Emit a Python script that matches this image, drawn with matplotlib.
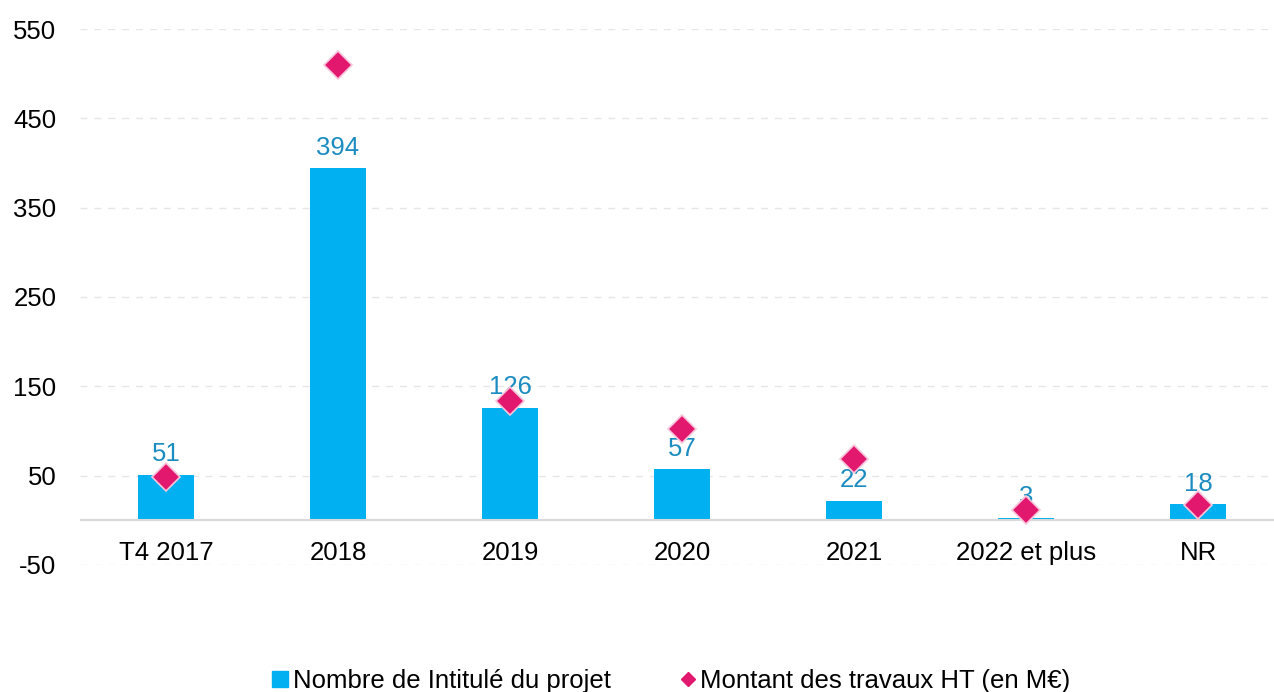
import matplotlib
matplotlib.use("Agg")
import matplotlib.pyplot as plt
from matplotlib.lines import Line2D

categories = ["T4 2017", "2018", "2019", "2020", "2021", "2022 et plus", "NR"]
nombre_projets = [51, 394, 126, 57, 22, 3, 18]
montant_travaux = [49, 510, 134, 102, 69, 12, 17]
yticks = [-50, 50, 150, 250, 350, 450, 550]

plt.rcParams['font.family'] = ['Liberation Sans', 'DejaVu Sans']
plt.rcParams['axes.unicode_minus'] = False

fig = plt.figure(figsize=(12.74, 6.92), dpi=100)
ax = fig.add_axes([80/1274, 127/692, 1194/1274, 536/692])

bar_color = "#00B0F0"
label_color = "#1B8CC0"
diamond_color = "#E2186F"
fs = 18.5

x = list(range(len(categories)))
ax.bar(x, nombre_projets, width=0.32, color=bar_color, zorder=2)
for xi, v in zip(x, nombre_projets):
    ax.annotate(str(v), (xi, v), xytext=(0, 6), textcoords="offset points",
                ha="center", va="bottom", fontsize=fs, color=label_color, zorder=4)
ax.plot(x, montant_travaux, linestyle="none", marker="D", markersize=14,
        color=diamond_color, markeredgecolor="#F7C6DA", markeredgewidth=1.2, zorder=5)

ax.set_xlim(-0.5, 6.5 - 10/172)
ax.set_ylim(-50, 550)
ax.set_yticks(yticks)
ax.set_xticks(x)
ax.set_xticklabels(categories)
ax.spines['bottom'].set_position(('data', 0))
ax.tick_params(axis="both", length=0, labelsize=fs, colors="black")
ax.tick_params(axis="y", pad=17)
ax.tick_params(axis="x", pad=15)
ax.yaxis.grid(True, linestyle=(0, (5, 5)), color="#E6E6E6", linewidth=1, zorder=0)
ax.axhline(0, color="#D9D9D9", linewidth=1.5, zorder=3)
for s in ax.spines.values():
    s.set_visible(False)

handles = [
    Line2D([0], [0], marker="s", linestyle="none", color=bar_color, markersize=11),
    Line2D([0], [0], marker="D", linestyle="none", color=diamond_color, markersize=7),
]
fig.legend(handles, ["Nombre de Intitulé du projet", "Montant des travaux HT (en M€)"],
           loc="lower center", bbox_to_anchor=(0.527, -0.035), ncol=2, frameon=False,
           fontsize=fs, handlelength=0.6, handletextpad=0.2, columnspacing=2.7)

fig.savefig("out.png", dpi=100)
